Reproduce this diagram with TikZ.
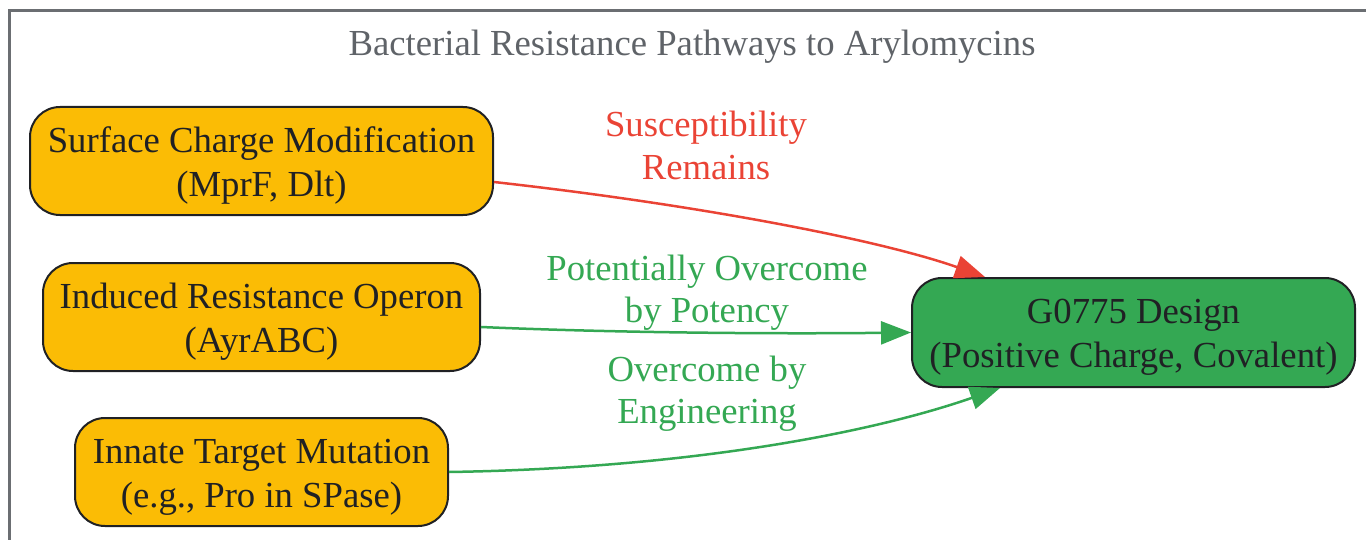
\documentclass[tikz,border=0pt]{standalone}
\usepackage{fontspec}
\setmainfont{Liberation Serif}
\usetikzlibrary{arrows.meta}
\definecolor{gyellow}{HTML}{FBBC05}
\definecolor{ggreen}{HTML}{34A853}
\definecolor{gred}{HTML}{EA4335}
\definecolor{dark}{HTML}{202124}
\definecolor{titlegray}{HTML}{5F6368}
\definecolor{framegray}{HTML}{6B6E72}
\newcommand\boxlines[2]{\raisebox{4.35pt}[0pt][0pt]{\begin{tabular}[t]{@{}c@{}}#1\\#2\end{tabular}}}
\newcommand\lbllines[2]{\begin{tabular}[t]{@{}c@{}}#1\\#2\end{tabular}}
\tikzset{
  box/.style={draw=dark, line width=1pt, rounded corners=15pt, inner sep=0pt,
    font=\fontsize{18.35}{22}\selectfont, text=dark},
  lbl/.style={anchor=base, inner sep=0pt, font=\fontsize{18.35}{21}\selectfont},
  edge/.style={line width=1.25pt, -{Triangle[length=15pt,width=11.5pt]}},
}
\begin{document}
\begin{tikzpicture}[x=0.5pt,y=-0.5pt]
\useasboundingbox (0,0) rectangle (1366,540);
\draw[framegray, line width=1.5pt] (9.5,545) -- (9.5,11) -- (1370,11);
\node[lbl, text=titlegray] (title) at (692,56) {Bacterial Resistance Pathways to Arylomycins};

\node[box, fill=gyellow, minimum width=231.5pt, minimum height=54pt] (s) at (261.5,161) {\boxlines{Surface Charge Modification}{(MprF, Dlt)}};
\node[box, fill=gyellow, minimum width=218.5pt, minimum height=54pt] (i) at (261.5,317) {\boxlines{Induced Resistance Operon}{(AyrABC)}};
\node[box, fill=gyellow, minimum width=186.5pt, minimum height=54pt] (m) at (261.5,472) {\boxlines{Innate Target Mutation}{(e.g., Pro in SPase)}};
\node[box, fill=ggreen, minimum width=221.5pt, minimum height=54.5pt] (g) at (1133.5,332.5) {\boxlines{G0775 Design}{(Positive Charge, Covalent)}};

\draw[edge, gred] ([yshift=-10.5pt]s.east) .. controls (700,205) and (880,240) .. ([xshift=-74.25pt]g.north);
\draw[edge, ggreen] ([yshift=-5pt]i.east) .. controls (620,333) and (780,334) .. (g.west);
\draw[edge, ggreen] (m.east) .. controls (700,468) and (880,430) .. ([xshift=-66.75pt]g.south);

\node[lbl, text=gred] (l1) at (706,137) {\lbllines{Susceptibility}{Remains}};
\node[lbl, text=ggreen] (l2) at (707,280) {\lbllines{Potentially Overcome}{by Potency}};
\node[lbl, text=ggreen] (l3) at (707,381) {\lbllines{Overcome by}{Engineering}};
\end{tikzpicture}
\end{document}
